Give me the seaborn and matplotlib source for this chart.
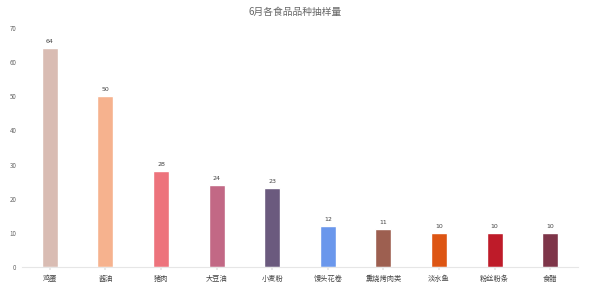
import matplotlib
matplotlib.use("Agg")
import matplotlib.pyplot as plt
import seaborn as sns
import pandas as pd

categories = ["鸡蛋", "酱油", "猪肉", "大豆油", "小麦粉", "馒头花卷", "熏烧烤肉类", "淡水鱼", "粉丝粉条", "食醋"]
values = [64, 50, 28, 24, 23, 12, 11, 10, 10, 10]
colors = ["#D9BCB3", "#F6B28E", "#ED737C", "#C26885", "#6B5A7E", "#6A97EC", "#9D5F50", "#DD5513", "#BE1B29", "#7E3549"]
title = "6月各食品品种抽样量"

sns.set_theme(style="white")
plt.rcParams['font.family'] = ['Noto Sans CJK SC', 'DejaVu Sans']

df = pd.DataFrame({"cat": categories, "val": values})

fig = plt.figure(figsize=(5.9, 2.95), dpi=100)
ax = fig.add_axes([22/590, 28/295, 556/590, 239/295])
sns.barplot(data=df, x="cat", y="val", hue="cat", palette=colors, legend=False,
            width=0.29, ax=ax, saturation=1)
for i, v in enumerate(values):
    ax.text(i, v + 1.2, str(v), ha="center", va="bottom", fontsize=4.5, color="#444444",
            family=["DejaVu Sans"])
ax.set_ylim(0, 70)
ax.set_xlim(-0.5, 9.5)
ax.set_yticks(range(0, 71, 10))
ax.set_xlabel("")
ax.set_ylabel("")
for s in ["top", "right", "left"]:
    ax.spines[s].set_visible(False)
ax.spines["bottom"].set_color("#E6E6E6")
ax.spines["bottom"].set_linewidth(0.8)
ax.tick_params(axis="y", labelsize=4.5, colors="#666666", length=0, pad=4)
ax.tick_params(axis="x", labelsize=5.2, colors="#444444", length=2, color="#E6E6E6", pad=4, bottom=True)
fig.text(0.5, 1 - 12/295, title, ha="center", va="center", fontsize=7, color="#666666")
fig.savefig("out.png", dpi=100)
